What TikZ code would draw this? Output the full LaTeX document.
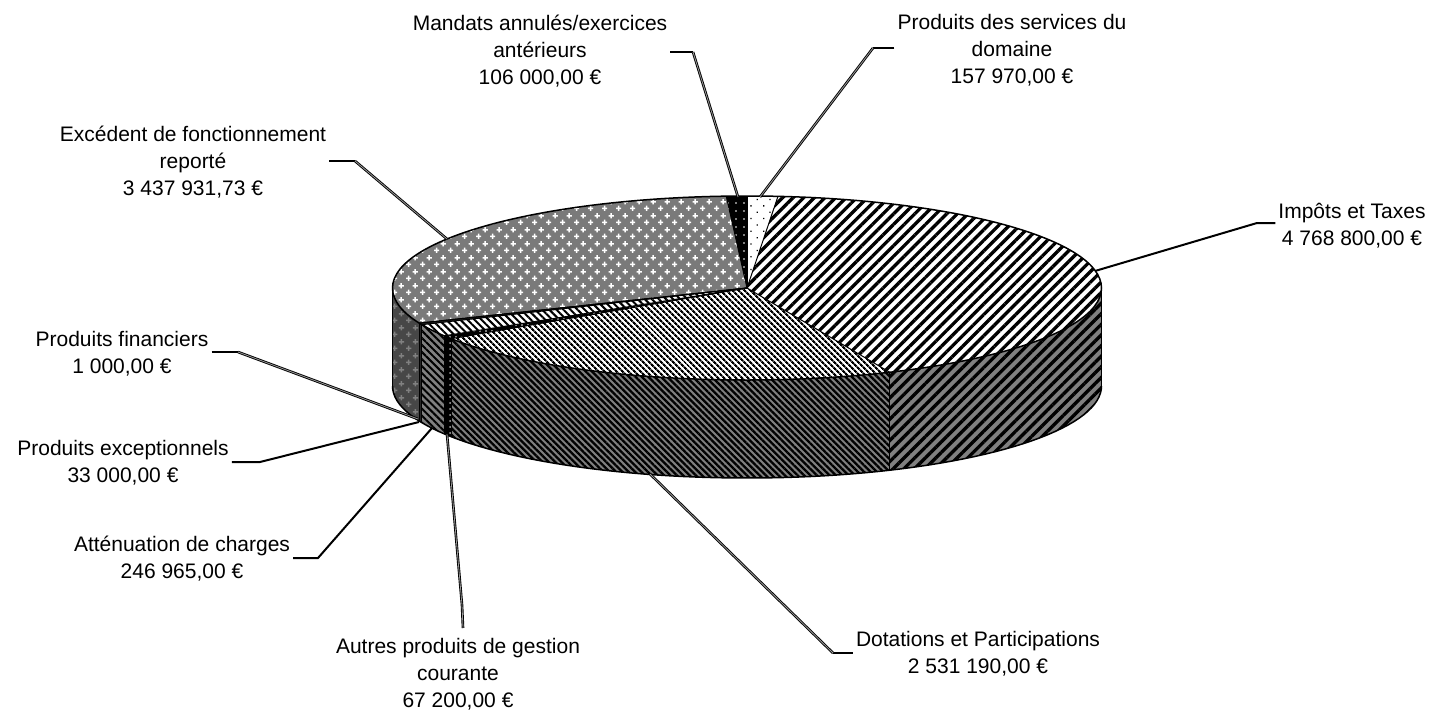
\documentclass[tikz,border=0pt]{standalone}
\usepackage{fontspec}
\setmainfont{Liberation Sans}
\usetikzlibrary{patterns,patterns.meta}

\pgfdeclarepattern{
  name=plusses,
  type=uncolored,
  bottom left={\pgfpointorigin},
  top right={\pgfpoint{14pt}{14pt}},
  tile size={\pgfpoint{14pt}{14pt}},
  code={
    \pgfpathrectangle{\pgfpoint{0pt}{2pt}}{\pgfpoint{5.6pt}{1.6pt}}
    \pgfpathrectangle{\pgfpoint{2pt}{0pt}}{\pgfpoint{1.6pt}{5.6pt}}
    \pgfpathrectangle{\pgfpoint{7pt}{9pt}}{\pgfpoint{5.6pt}{1.6pt}}
    \pgfpathrectangle{\pgfpoint{9pt}{7pt}}{\pgfpoint{1.6pt}{5.6pt}}
    \pgfusepath{fill}
  }
}

\def\pcx{747}
\def\pcy{288}
\def\ra{354.5}
\def\rb{92}
\def\dep{98}

\newcommand{\pietop}[3]{\path[#3] (\pcx,\pcy) -- plot[domain=#1:#2,samples=40,variable=\t] ({\pcx+\ra*sin(\t)},{\pcy-\rb*cos(\t)}) -- cycle;}
\newcommand{\piewall}[3]{\path[#3] plot[domain=#1:#2,samples=40,variable=\t] ({\pcx+\ra*sin(\t)},{\pcy-\rb*cos(\t)}) -- plot[domain=#2:#1,samples=40,variable=\t] ({\pcx+\ra*sin(\t)},{\pcy+\dep-\rb*cos(\t)}) -- cycle;}

\begin{document}
\begin{tikzpicture}[x=1pt,y=-1pt,
  outl/.style={draw=black,line width=1.5pt,line join=round},
  seam/.style={draw=black,line width=1pt},
  lbl/.style={font=\fontsize{21}{27}\selectfont,align=center,inner sep=3pt},
  leader/.style={draw=black,line width=2pt},
  leaderd/.style={draw=black,line width=0.9pt,double=white!60!black,double distance=0.8pt},
  servtop/.style={fill=white,postaction={pattern={Dots[radius=0.9pt,distance=9pt,angle=45]},pattern color=black}},
  imptop/.style={fill=white,postaction={pattern={Lines[angle=45,distance=7.5pt,line width=3.3pt]},pattern color=black}},
  impwall/.style={fill=gray,postaction={pattern={Lines[angle=45,distance=7.5pt,line width=3.3pt]},pattern color=black}},
  dottop/.style={fill=white,postaction={pattern={Lines[angle=-45,distance=4pt,line width=2.2pt]},pattern color=black}},
  dotwall/.style={fill=gray,postaction={pattern={Lines[angle=-45,distance=4.5pt,line width=2.3pt]},pattern color=black}},
  autop/.style={fill=black,postaction={pattern={Dots[radius=0.9pt,distance=6pt]},pattern color=white}},
  auwall/.style={fill=black,postaction={pattern={Dots[radius=1pt,distance=6pt]},pattern color=gray!60}},
  atttop/.style={fill=white,postaction={pattern={Lines[angle=-45,distance=5pt,line width=2pt]},pattern color=black}},
  attwall/.style={fill=gray,postaction={pattern={Lines[angle=-45,distance=5pt,line width=2pt]},pattern color=black}},
  darkslice/.style={fill=black!85},
  excedtop/.style={fill=black!52,postaction={pattern=plusses,pattern color=white}},
  excedwall/.style={fill=black!72,postaction={pattern=plusses,pattern color=gray}},
  mantop/.style={fill=black,postaction={pattern={Dots[radius=0.9pt,distance=8pt]},pattern color=white}}
]
\useasboundingbox (0,0) rectangle (1432,715);

% boundary points
\foreach \n/\a in {s0/0,s1/5.01,s2/156.27,s3/236.55,s4/238.68,s5/246.52,s6/247.56,s7/247.59,s8/356.64}{
  \coordinate (\n) at ({\pcx+\ra*sin(\a)},{\pcy-\rb*cos(\a)});
  \coordinate (b\n) at ({\pcx+\ra*sin(\a)},{\pcy+\dep-\rb*cos(\a)});
}
\coordinate (ctr) at (\pcx,\pcy);

% side walls
\piewall{90}{156.27}{impwall}
\piewall{156.27}{236.55}{dotwall}
\piewall{236.55}{238.68}{auwall}
\piewall{238.68}{246.52}{attwall}
\piewall{246.52}{247.59}{darkslice}
\piewall{247.59}{270}{excedwall}

% top faces
\pietop{0}{5.01}{servtop}
\pietop{5.01}{156.27}{imptop}
\pietop{156.27}{236.55}{dottop}
\pietop{236.55}{238.68}{autop}
\pietop{238.68}{246.52}{atttop}
\pietop{246.52}{247.59}{darkslice}
\pietop{247.59}{356.64}{excedtop}
\pietop{356.64}{360}{mantop}

% seams
\foreach \n in {s0,s1,s2,s3,s4,s5,s6,s7,s8}{ \draw[seam] (ctr) -- (\n); }
\foreach \n in {s2,s3,s4,s5,s6}{ \draw[seam] (\n) -- (b\n); }

% outlines
\draw[outl] (ctr) ellipse[x radius=\ra,y radius=\rb];
\draw[outl] plot[domain=90:270,samples=80,variable=\t] ({\pcx+\ra*sin(\t)},{\pcy+\dep-\rb*cos(\t)});
\draw[outl] ({\pcx+\ra},\pcy) -- ({\pcx+\ra},{\pcy+\dep});
\draw[outl] ({\pcx-\ra},\pcy) -- ({\pcx-\ra},{\pcy+\dep});

% labels
\node[lbl] (lMan) at (540,51) {Mandats annulés/exercices\\antérieurs\\106 000,00 €};
\node[lbl] (lServ) at (1012,50.5) {Produits des services du\\domaine\\157 970,00 €};
\node[lbl] (lExced) at (193,162) {Excédent de fonctionnement\\reporté\\3 437 931,73 €};
\node[lbl] (lImp) at (1352,226) {Impôts et Taxes\\4 768 800,00 €};
\node[lbl] (lDot) at (978,654) {Dotations et Participations\\2 531 190,00 €};
\node[lbl] (lAut) at (458,674.5) {Autres produits de gestion\\courante\\67 200,00 €};
\node[lbl] (lAtt) at (182,559) {Atténuation de charges\\246 965,00 €};
\node[lbl] (lExc) at (123,463) {Produits exceptionnels\\33 000,00 €};
\node[lbl] (lFin) at (122,354) {Produits financiers\\1 000,00 €};

% leader points
\coordinate (pMan) at (738,197);   \coordinate (kMan) at (693,52);
\coordinate (pServ) at (760,197);  \coordinate (kServ) at (873,48);
\coordinate (pExced) at (447,239); \coordinate (kExced) at (355,161);
\coordinate (pImp) at (1095,271);  \coordinate (kImp) at (1257,223);
\coordinate (pDot) at (650,474);   \coordinate (kDot) at (833,653);
\coordinate (pAut) at (447,434);   \coordinate (kAut) at (462,605); \coordinate (eAut) at (463,628);
\coordinate (pAtt) at (432,428);   \coordinate (kAtt) at (318,558);
\coordinate (pExc) at (419,422);   \coordinate (kExc) at (260,462);
\coordinate (pFin) at (418,419);   \coordinate (kFin) at (238,352);

% leaders
\draw[leader] (lMan.east |- kMan) -- (kMan);
\draw[leaderd] (kMan) -- (pMan);
\draw[leader] (lServ.west |- kServ) -- (kServ);
\draw[leaderd] (kServ) -- (pServ);
\draw[leader] (lExced.east |- kExced) -- (kExced);
\draw[leaderd] (kExced) -- (pExced);
\draw[leader] (lImp.west |- kImp) -- (kImp) -- (pImp);
\draw[leader] (lDot.west |- kDot) -- (kDot);
\draw[leaderd] (kDot) -- (pDot);
\draw[leaderd] (eAut) -- (kAut) -- (pAut);
\draw[leader] (lAtt.east |- kAtt) -- (kAtt) -- (pAtt);
\draw[leader] (lExc.east |- kExc) -- (kExc) -- (pExc);
\draw[leader] (lFin.east |- kFin) -- (kFin);
\draw[leaderd] (kFin) -- (pFin);
\end{tikzpicture}
\end{document}
